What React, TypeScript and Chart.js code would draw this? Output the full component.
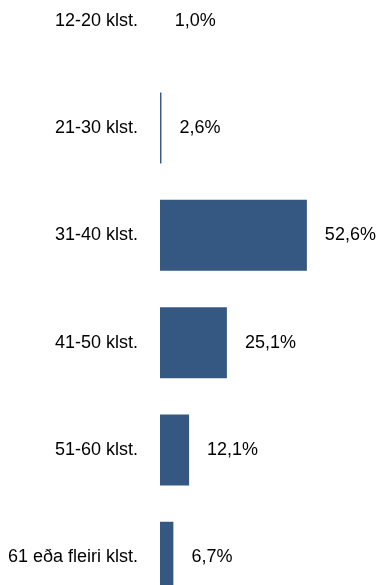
import React, { useEffect, useRef } from "react";
import { Chart, registerables } from "chart.js";

Chart.register(...registerables);

const categories = [
  "12-20 klst.",
  "21-30 klst.",
  "31-40 klst.",
  "41-50 klst.",
  "51-60 klst.",
  "61 eða fleiri klst.",
];
const values = [1.0, 2.6, 52.6, 25.1, 12.1, 6.7];
const valueLabels = ["1,0%", "2,6%", "52,6%", "25,1%", "12,1%", "6,7%"];

const FONT = '"Liberation Sans", Arial, sans-serif';

const dataLabelPlugin = {
  id: "dataLabels",
  afterDatasetsDraw(chart: any) {
    const ctx = chart.ctx;
    const meta = chart.getDatasetMeta(0);
    ctx.save();
    ctx.font = `18px ${FONT}`;
    ctx.fillStyle = "#000";
    ctx.textAlign = "left";
    ctx.textBaseline = "middle";
    meta.data.forEach((el: any, i: number) => {
      ctx.fillText(valueLabels[i], el.x + 18, el.y);
    });
    ctx.restore();
  },
};

export default function App() {
  const ref = useRef<HTMLCanvasElement | null>(null);
  useEffect(() => {
    if (!ref.current) return;
    const chart = new Chart(ref.current, {
      type: "bar",
      data: {
        labels: categories,
        datasets: [
          {
            data: values,
            backgroundColor: "#355882",
            borderWidth: 0,
            barPercentage: 0.662,
            categoryPercentage: 1,
          },
        ],
      },
      options: {
        indexAxis: "y",
        responsive: false,
        animation: false,
        devicePixelRatio: 1,
        layout: { padding: 0 },
        plugins: {
          legend: { display: false },
          title: { display: false },
          tooltip: { enabled: false },
        },
        scales: {
          x: {
            display: false,
            min: 2.1,
            max: 77.4,
          },
          y: {
            afterFit(scale: any) {
              scale.width = 160;
              scale.paddingTop = 0;
              scale.paddingBottom = 0;
            },
            grid: { display: false, drawTicks: false },
            border: { display: false },
            ticks: {
              autoSkip: false,
              padding: 22,
              color: "#000",
              font: { family: FONT, size: 18 },
            },
          },
        },
      },
      plugins: [dataLabelPlugin],
    } as any);
    return () => chart.destroy();
  }, []);
  return (
    <div
      style={{
        position: "fixed",
        left: 0,
        top: 0,
        width: 379,
        height: 585,
        overflow: "hidden",
        background: "#fff",
      }}
    >
      <canvas
        ref={ref}
        width={379}
        height={644}
        style={{ position: "absolute", left: 0, top: -33, display: "block" }}
      />
    </div>
  );
}
